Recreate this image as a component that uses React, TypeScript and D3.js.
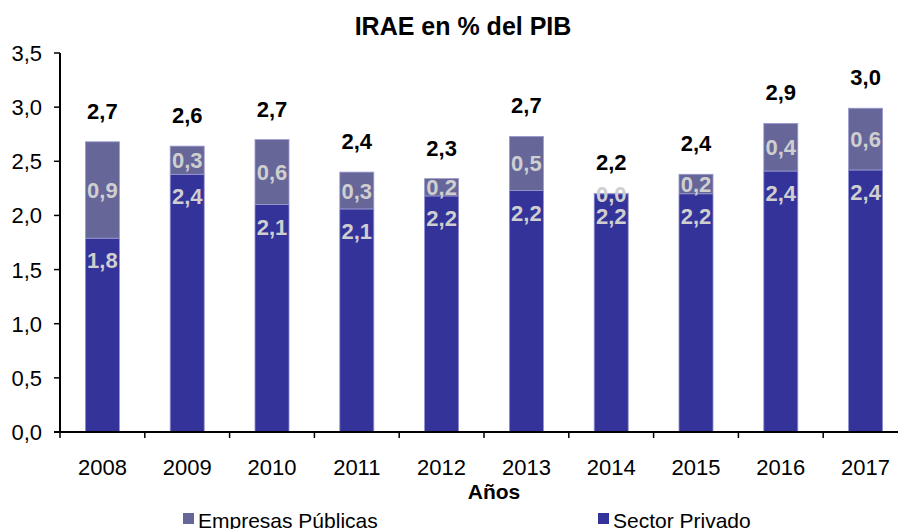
import React from "react";
import * as d3 from "d3";

const years = ["2008", "2009", "2010", "2011", "2012", "2013", "2014", "2015", "2016", "2017"];
const privado = [1.79, 2.38, 2.1, 2.06, 2.18, 2.23, 2.2, 2.2, 2.41, 2.42];
const publicas = [0.89, 0.26, 0.6, 0.34, 0.16, 0.5, 0.004, 0.18, 0.44, 0.57];
const totalLabels = ["2,7", "2,6", "2,7", "2,4", "2,3", "2,7", "2,2", "2,4", "2,9", "3,0"];
const yTicks = [0, 0.5, 1, 1.5, 2, 2.5, 3, 3.5];

const W = 898;
const H = 529;
const left = 60;
const axisRight = 908;
const top = 53;
const bottom = 432;

const fmt = (v: number) => v.toFixed(1).replace(".", ",");

export default function App() {
  const xb = d3.scaleBand<string>().domain(years).range([left, axisRight]);
  const y = d3.scaleLinear().domain([0, 3.5]).range([bottom, top]);
  const font = "'Liberation Sans', Arial, sans-serif";
  const bw = 34;

  return (
    <svg width={W} height={H} style={{ position: "absolute", left: 0, top: 0 }} fontFamily={font}>
      <rect width={W} height={H} fill="#fff" />
      <text x={463} y={35} textAnchor="middle" fontSize={25} fontWeight="bold">IRAE en % del PIB</text>

      {years.map((yr, i) => {
        const cx = (xb(yr) as number) + xb.bandwidth() / 2;
        const p = privado[i];
        const q = publicas[i];
        const tot = p + q;
        return (
          <g key={yr}>
            <rect x={cx - bw / 2} y={y(p)} width={bw} height={y(0) - y(p)} fill="#333399" stroke="#8f8fd0" strokeWidth={0.8} />
            <rect x={cx - bw / 2} y={y(tot)} width={bw} height={Math.max(0, y(p) - y(tot))} fill="#666699" stroke="#9a9ad0" strokeWidth={0.8} />
            <text x={cx} y={y(p) + 30} textAnchor="middle" fontSize={22} fontWeight="bold" fill="#cfcfcf">{fmt(p)}</text>
            <text x={cx} y={(y(p) + y(tot)) / 2 + 8} textAnchor="middle" fontSize={22} fontWeight="bold" fill="#cfcfcf">{fmt(q)}</text>
            <text x={cx} y={y(tot) - 23} textAnchor="middle" fontSize={22} fontWeight="bold" fill="#000">{totalLabels[i]}</text>
          </g>
        );
      })}

      {/* y axis */}
      <line x1={left} x2={left} y1={top} y2={bottom} stroke="#000" strokeWidth={2} />
      {yTicks.map((t) => (
        <g key={t}>
          <line x1={left - 6} x2={left} y1={y(t)} y2={y(t)} stroke="#000" strokeWidth={1.5} />
          <text x={42} y={y(t) + 8} textAnchor="end" fontSize={22} fill="#000">{fmt(t)}</text>
        </g>
      ))}

      {/* x axis */}
      <line x1={left - 6} x2={axisRight} y1={bottom} y2={bottom} stroke="#000" strokeWidth={2} />
      {years.map((yr) => (
        <line key={"t" + yr} x1={(xb(yr) as number)} x2={(xb(yr) as number)} y1={bottom} y2={bottom + 6} stroke="#000" strokeWidth={1.5} />
      ))}
      {years.map((yr) => (
        <text key={"l" + yr} x={(xb(yr) as number) + xb.bandwidth() / 2} y={475} textAnchor="middle" fontSize={22} fill="#000">{yr}</text>
      ))}
      <text x={494} y={499} textAnchor="middle" fontSize={21} fontWeight="bold">Años</text>

      {/* legend */}
      <rect x={183} y={513} width={11} height={11} fill="#666699" />
      <text x={198} y={528} fontSize={21} fill="#000">Empresas Públicas</text>
      <rect x={598} y={513} width={11} height={11} fill="#333399" />
      <text x={613} y={528} fontSize={21} fill="#000">Sector Privado</text>
    </svg>
  );
}
